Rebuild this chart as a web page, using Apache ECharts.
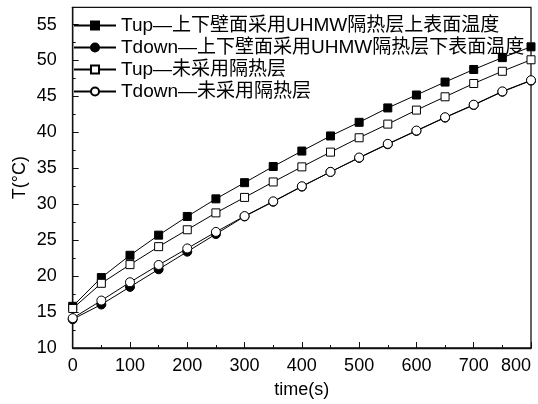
<!DOCTYPE html>
<html style="height: 100%">
   <head>
       <meta charset="utf-8">
   </head>
   <body style="height: 100%; margin: 0; background: #fff">
       <div id="container" style="width: 538px; height: 404px"></div>
       <script type="text/javascript" src="https://cdn.jsdelivr.net/npm/echarts@6/dist/echarts.min.js"></script>
       <script type="text/javascript">
// time steps (s)
var times = [0, 50, 100, 150, 200, 250, 300, 350, 400, 450, 500, 550, 600, 650, 700, 750, 800];
// Tup, UHMW insulation on walls (filled squares)
var tupUhmw = [15.8, 19.8, 22.9, 25.7, 28.3, 30.75, 33.0, 35.25, 37.4, 39.5, 41.4, 43.4, 45.2, 47.0, 48.75, 50.4, 51.9];
// Tdown, UHMW insulation (filled circles)
var tdownUhmw = [14.0, 16.05, 18.5, 20.95, 23.4, 25.85, 28.3, 30.35, 32.45, 34.5, 36.45, 38.35, 40.2, 42.05, 43.8, 45.65, 47.2];
// Tup, no insulation (open squares)
var tupNone = [15.5, 19.0, 21.6, 24.1, 26.45, 28.8, 30.95, 33.1, 35.2, 37.25, 39.25, 41.15, 43.1, 44.95, 46.8, 48.5, 50.1];
// Tdown, no insulation (open circles)
var tdownNone = [14.15, 16.6, 19.15, 21.55, 23.85, 26.15, 28.35, 30.4, 32.5, 34.5, 36.5, 38.4, 40.25, 42.1, 43.85, 45.7, 47.25];

var names = [
    'Tup—上下壁面采用UHMW隔热层上表面温度',
    'Tdown—上下壁面采用UHMW隔热层下表面温度',
    'Tup—未采用隔热层',
    'Tdown—未采用隔热层'
];

function pairs(ys) {
    return times.map(function (t, i) { return [t, ys[i]]; });
}

var fontFam = '"Liberation Sans", "Noto Sans CJK SC", sans-serif';

function mkSeries(name, ys, symbol, fill, size) {
    return {
        name: name,
        type: 'line',
        data: pairs(ys),
        symbol: symbol,
        symbolSize: size,
        showAllSymbol: true,
        lineStyle: {color: '#000', width: 1},
        itemStyle: {color: fill, borderColor: '#000', borderWidth: 1},
        emphasis: {disabled: true},
        animation: false
    };
}

var dom = document.getElementById("container");
var myChart = echarts.init(dom);
var option = {
    backgroundColor: '#fff',
    animation: false,
    grid: {
        left: 72.7,
        right: 7,
        top: 7.3,
        bottom: 54.7,
        show: true,
        borderColor: '#111',
        borderWidth: 1.3,
        backgroundColor: 'transparent'
    },
    legend: {
        orient: 'vertical',
        left: 73,
        top: 16,
        padding: 0,
        itemWidth: 42,
        itemHeight: 10,
        itemGap: 3,
        textStyle: {fontFamily: fontFam, fontSize: 19, color: '#000'},
        data: names
    },
    xAxis: {
        type: 'value',
        min: 0,
        max: 800,
        interval: 100,
        name: 'time(s)',
        nameLocation: 'middle',
        nameGap: 33,
        nameMoveOverlap: false,
        nameTextStyle: {fontFamily: fontFam, fontSize: 18, color: '#000'},
        axisLine: {onZero: false, lineStyle: {color: '#111', width: 1.3}},
        axisTick: {inside: true, length: 6, lineStyle: {color: '#111'}},
        minorTick: {show: true, splitNumber: 2, length: 3, lineStyle: {color: '#111'}},
        splitLine: {show: false},
        axisLabel: {fontFamily: fontFam, fontSize: 18, color: '#000', margin: 9, alignMaxLabel: 'right'}
    },
    yAxis: {
        type: 'value',
        min: 10,
        max: 57.4,
        interval: 5,
        name: 'T(°C)',
        nameLocation: 'middle',
        nameGap: 44,
        nameMoveOverlap: false,
        nameTextStyle: {fontFamily: fontFam, fontSize: 18, color: '#000'},
        axisLine: {onZero: false, lineStyle: {color: '#111', width: 1.3}},
        axisTick: {inside: true, length: 6, lineStyle: {color: '#111'}},
        minorTick: {show: true, splitNumber: 2, length: 3, lineStyle: {color: '#111'}},
        splitLine: {show: false},
        axisLabel: {fontFamily: fontFam, fontSize: 18, color: '#000', margin: 16, showMaxLabel: false}
    },
    series: [
        mkSeries(names[0], tupUhmw, 'rect', '#000', 8),
        mkSeries(names[1], tdownUhmw, 'circle', '#000', 9),
        mkSeries(names[2], tupNone, 'rect', '#fff', 8),
        mkSeries(names[3], tdownNone, 'circle', '#fff', 9)
    ]
};

if (option && typeof option === "object") {
    myChart.setOption(option, true);
}
       </script>
   </body>
</html>
